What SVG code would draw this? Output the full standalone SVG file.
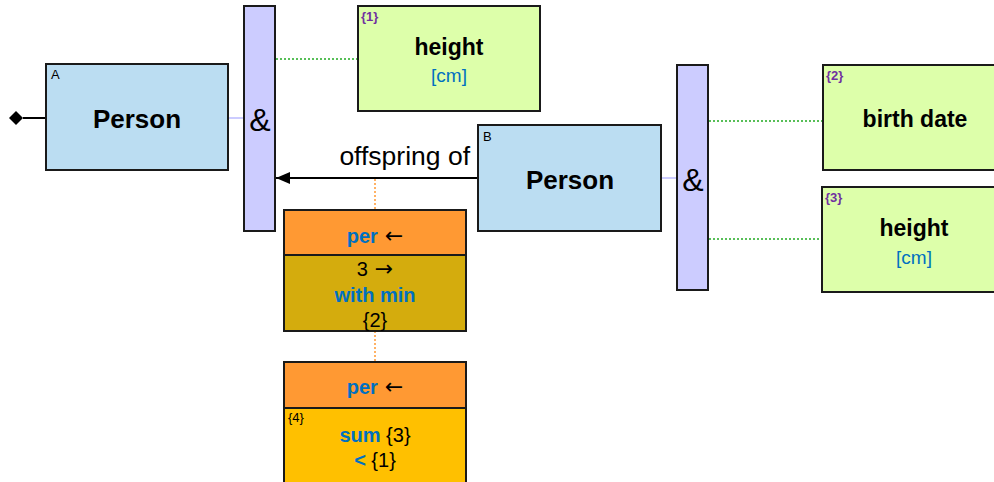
<svg xmlns="http://www.w3.org/2000/svg" width="994" height="482" viewBox="0 0 994 482">
<defs>
<style>
.ent{fill:#BBDDF2;stroke:#1a1a1a;stroke-width:2}
.bar{fill:#CCCCFF;stroke:#1a1a1a;stroke-width:2}
.attr{fill:#DDFFAA;stroke:#1a1a1a;stroke-width:2}
.per{fill:#FF9933;stroke:#1a1a1a;stroke-width:2}
.dk{fill:#D4AC0D;stroke:#1a1a1a;stroke-width:2}
.yl{fill:#FFC000;stroke:#1a1a1a;stroke-width:2}
.t{font-family:"Liberation Sans",Arial,sans-serif;text-anchor:middle}
.big{font-size:26px;font-weight:bold;fill:#000}
.an{font-size:23px;font-weight:bold;fill:#000}
.unit{font-size:19px;fill:#0070C0}
.idx{font-family:"Liberation Sans",Arial,sans-serif;font-size:13px;font-weight:bold;fill:#7030A0}
.lt{font-family:"Liberation Sans",Arial,sans-serif;font-size:13px;fill:#000}
.amp{font-size:32px;fill:#000}
.kw{font-size:20px;font-weight:bold;fill:#0070C0}
.nm{font-size:20px;fill:#000}
.ar{font-family:"DejaVu Sans",sans-serif;font-size:22px;fill:#000}
.gl{stroke:#22AA22;stroke-width:1.5;stroke-dasharray:2,2;fill:none}
.ol{stroke:#FF9933;stroke-width:1.5;stroke-dasharray:2,2;fill:none}
.pl{stroke:#CCCCFF;stroke-width:2;fill:none}
</style>
<marker id="ah" markerWidth="14" markerHeight="12" refX="14" refY="6" orient="auto" markerUnits="userSpaceOnUse">
<path d="M0,0 L14,6 L0,12 Z" fill="#000"/>
</marker>
</defs>
<g id="connectors">
<line x1="23" y1="118" x2="46" y2="118" stroke="#000" stroke-width="2"/>
<path d="M9,118 L16,111 L23,118 L16,125 Z" fill="#000"/>
<line class="pl" x1="229" y1="118" x2="244" y2="118"/>
<line class="gl" x1="276" y1="59" x2="358" y2="59"/>
<line x1="478" y1="178" x2="276" y2="178" stroke="#000" stroke-width="2" marker-end="url(#ah)"/>
<text class="t" x="470" y="165" style="font-size:26.5px;text-anchor:end;fill:#000">offspring of</text>
<line class="ol" x1="375" y1="179" x2="375" y2="210"/>
<line class="ol" x1="375" y1="331" x2="375" y2="362"/>
<line class="pl" x1="662" y1="178" x2="677" y2="178"/>
<line class="gl" x1="709" y1="121" x2="823" y2="121"/>
<line class="gl" x1="709" y1="239" x2="822" y2="239"/>
</g>
<g id="personA">
<rect class="ent" x="46" y="64" width="182" height="106"/>
<text class="lt" x="51" y="79">A</text>
<text class="t big" x="137" y="128">Person</text>
</g>
<g id="and1">
<rect class="bar" x="244" y="6" width="31" height="225"/>
<text class="t amp" x="260" y="131">&amp;</text>
</g>
<g id="height1">
<rect class="attr" x="358" y="6" width="182" height="105"/>
<text class="idx" x="361" y="21">{1}</text>
<text class="t an" x="449" y="55">height</text>
<text class="t unit" x="449" y="82">[cm]</text>
</g>
<g id="personB">
<rect class="ent" x="478" y="125" width="183" height="106"/>
<text class="lt" x="483" y="141">B</text>
<text class="t big" x="570" y="189">Person</text>
</g>
<g id="and2">
<rect class="bar" x="677" y="65" width="31" height="225"/>
<text class="t amp" x="693" y="191">&amp;</text>
</g>
<g id="birthdate">
<rect class="attr" x="823" y="65" width="175" height="105"/>
<text class="idx" x="826" y="80">{2}</text>
<text class="t an" x="915" y="127">birth date</text>
</g>
<g id="height3">
<rect class="attr" x="822" y="187" width="176" height="105"/>
<text class="idx" x="825" y="202">{3}</text>
<text class="t an" x="914" y="236">height</text>
<text class="t unit" x="914" y="264">[cm]</text>
</g>
<g id="per1">
<rect class="per" x="284" y="210" width="182" height="45"/>
<text class="t" x="375" y="243"><tspan class="kw">per</tspan><tspan class="ar"> ←</tspan></text>
<rect class="dk" x="284" y="255" width="182" height="76"/>
<text class="t" x="375" y="276"><tspan class="nm">3</tspan><tspan class="ar"> →</tspan></text>
<text class="t kw" x="375" y="302">with min</text>
<text class="t nm" x="375" y="327">{2}</text>
</g>
<g id="per2">
<rect class="per" x="284" y="362" width="182" height="46"/>
<text class="t" x="375" y="394"><tspan class="kw">per</tspan><tspan class="ar"> ←</tspan></text>
<rect class="yl" x="284" y="408" width="182" height="80"/>
<text class="lt" x="288" y="422">{4}</text>
<text class="t" x="375" y="442"><tspan class="kw">sum</tspan><tspan class="nm"> {3}</tspan></text>
<text class="t" x="375" y="467"><tspan class="kw">&lt;</tspan><tspan class="nm"> {1}</tspan></text>
</g>
</svg>
